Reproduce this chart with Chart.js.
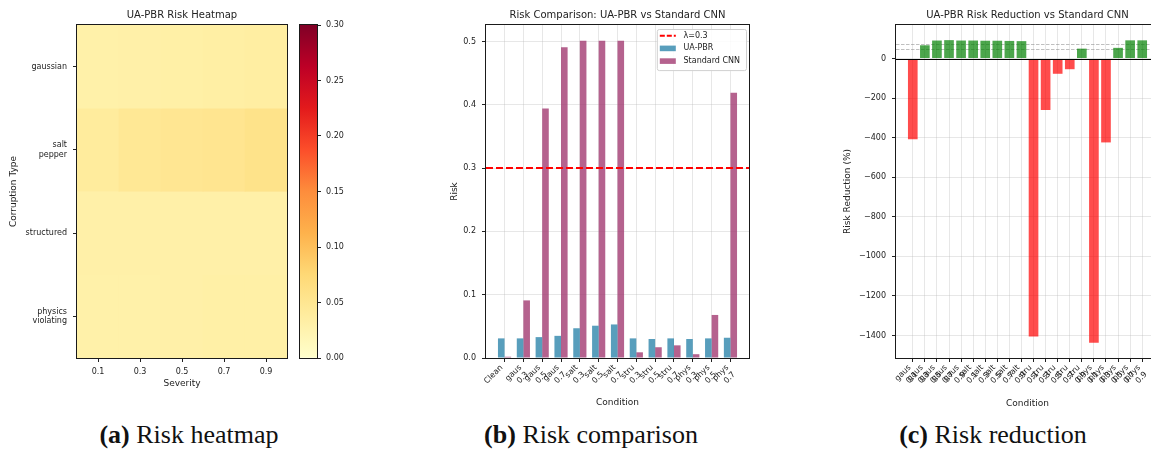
<!DOCTYPE html>
<html>
<head>
<meta charset="utf-8">
<script src="https://cdn.jsdelivr.net/npm/chart.js@4.4.1/dist/chart.umd.min.js"></script>
<style>
html,body{margin:0;padding:0;background:#fff;overflow:hidden;width:1151px;height:452px;}
canvas{position:absolute;}
.cap{position:absolute;top:420px;font-family:'Liberation Serif','Times New Roman',serif;font-size:26px;line-height:30px;color:#111;white-space:nowrap;transform:translateX(-50%);}
</style>
</head>
<body>
<canvas id="heat" width="292" height="400" style="left:0px;top:0px"></canvas>
<canvas id="cbar" width="70" height="400" style="left:292px;top:0px"></canvas>
<canvas id="cmp" width="336" height="420" style="left:420px;top:0px"></canvas>
<canvas id="red" width="346" height="420" style="left:820px;top:0px"></canvas>
<div class="cap" style="left:189px"><b>(a)</b> Risk heatmap</div>
<div class="cap" style="left:591px"><b>(b)</b> Risk comparison</div>
<div class="cap" style="left:993px"><b>(c)</b> Risk reduction</div>
<script>
// ---------------- DATA ----------------
const severities = ['0.1', '0.3', '0.5', '0.7', '0.9'];
const corruptionTypes = ['gaussian', 'salt pepper', 'structured', 'physics violating'];
const heatGaussian   = [0.030, 0.031, 0.032, 0.034, 0.036];
const heatSaltPepper = [0.040, 0.047, 0.050, 0.052, 0.057];
const heatStructured = [0.031, 0.031, 0.031, 0.031, 0.031];
const heatPhysics    = [0.030, 0.030, 0.031, 0.032, 0.032];
const colorbarRange = [0, 0.30];
const colorbarTicks = [0, 0.05, 0.10, 0.15, 0.20, 0.25, 0.30];

const conditions = ['Clean', 'gaus 0.3', 'gaus 0.5', 'gaus 0.7', 'salt 0.3', 'salt 0.5', 'salt 0.7',
                    'stru 0.3', 'stru 0.5', 'stru 0.7', 'phys 0.3', 'phys 0.5', 'phys 0.7'];
const uaPbrRisk       = [0.031, 0.031, 0.033, 0.035, 0.047, 0.051, 0.053, 0.031, 0.030, 0.031, 0.030, 0.031, 0.032];
const standardCnnRisk = [0.002, 0.091, 0.394, 0.491, 0.501, 0.501, 0.501, 0.009, 0.017, 0.020, 0.006, 0.068, 0.419];
const riskThreshold = 0.3;
const riskTicks = [0, 0.1, 0.2, 0.3, 0.4, 0.5];

const reductionConditions = ['gaus 0.1', 'gaus 0.3', 'gaus 0.5', 'gaus 0.7', 'gaus 0.9',
                             'salt 0.1', 'salt 0.3', 'salt 0.5', 'salt 0.7', 'salt 0.9',
                             'stru 0.1', 'stru 0.3', 'stru 0.5', 'stru 0.7', 'stru 0.9',
                             'phys 0.1', 'phys 0.3', 'phys 0.5', 'phys 0.7', 'phys 0.9'];
const riskReduction = [-408, 67, 91, 93, 91, 91, 90, 90, 89, 88,
                       -1405, -260, -77, -54, 50, -1437, -424, 54, 92, 92];
const reductionRefLines = [50, 75];
const reductionTicks = [-1400, -1200, -1000, -800, -600, -400, -200, 0];

// ---------------- STYLE ----------------
const FONT = "'DejaVu Sans', sans-serif";
const TXT = '#222222';
const GRID = 'rgba(176,176,176,0.3)';
const UA_COLOR = 'rgba(46,134,171,0.8)';
const CNN_COLOR = 'rgba(162,59,114,0.8)';
const POS_COLOR = 'rgba(0,128,0,0.7)';
const NEG_COLOR = 'rgba(255,0,0,0.7)';
const THRESH_COLOR = '#ff0000';
const YLORRD = ['#ffffcc','#ffeda0','#fed976','#feb24c','#fd8d3c','#fc4e2a','#e31a1c','#bd0026','#800026'];

Chart.defaults.font.family = FONT;
Chart.defaults.font.size = 8;
Chart.defaults.color = TXT;
Chart.defaults.animation = false;

function hexToRgb(h) { return [1,3,5].map(i => parseInt(h.substr(i,2),16)); }
function cmap(t) {
  t = Math.max(0, Math.min(1, t));
  const p = t * (YLORRD.length - 1);
  const i = Math.min(YLORRD.length - 2, Math.floor(p));
  const f = p - i;
  const a = hexToRgb(YLORRD[i]), b = hexToRgb(YLORRD[i+1]);
  const c = a.map((v,k) => Math.round(v + (b[k]-v)*f));
  return `rgb(${c[0]},${c[1]},${c[2]})`;
}
// matplotlib-like 5% margins around bar extents
function paddedRange(lo, hi) { const m = (hi - lo) * 0.05; return [lo - m, hi + m]; }

const spines = {
  id: 'spines',
  afterDraw(chart) {
    const {ctx, chartArea: a} = chart;
    ctx.save();
    ctx.strokeStyle = '#1a1a1a';
    ctx.lineWidth = 1;
    ctx.strokeRect(Math.round(a.left) - 0.5, Math.round(a.top) - 0.5,
                   Math.round(a.right) - Math.round(a.left) + 1, Math.round(a.bottom) - Math.round(a.top) + 1);
    ctx.restore();
  }
};

const titleFont = {family: FONT, size: 10, weight: 'normal'};
const axisTitleFont = {family: FONT, size: 9, weight: 'normal'};
const tickFont = {family: FONT, size: 8};

// ---------------- (a) HEATMAP ----------------
const heatRows = [heatGaussian, heatSaltPepper, heatStructured, heatPhysics];
new Chart(document.getElementById('heat'), {
  type: 'bar',
  data: {
    labels: severities,
    datasets: heatRows.map((row, r) => ({
      label: corruptionTypes[r],
      data: row.map(() => [r - 0.5, r + 0.5]),
      backgroundColor: row.map(v => cmap((v - colorbarRange[0]) / (colorbarRange[1] - colorbarRange[0]))),
      borderWidth: 0,
      barPercentage: 1,
      categoryPercentage: 1,
      grouped: false
    }))
  },
  options: {
    responsive: false, devicePixelRatio: 1,
    layout: {padding: {left: 0, right: 5, top: 0, bottom: 0}},
    plugins: {
      legend: {display: false}, tooltip: {enabled: false},
      title: {display: true, text: 'UA-PBR Risk Heatmap', fullSize: false, color: TXT, font: titleFont, padding: {top: 9, bottom: 4}}
    },
    scales: {
      x: {
        type: 'category', offset: true,
        grid: {display: true, drawOnChartArea: false, offset: false, tickLength: 4, tickColor: TXT},
        border: {display: false},
        ticks: {font: tickFont, color: TXT, padding: 5, maxRotation: 0, autoSkip: false},
        title: {display: true, text: 'Severity', font: axisTitleFont, color: TXT, padding: {top: 0, bottom: 10.6}},
        afterFit: s => { s.height = 42; }
      },
      y: {
        type: 'linear', reverse: true, min: -0.5, max: corruptionTypes.length - 0.5,
        afterBuildTicks: s => { s.ticks = corruptionTypes.map((_, i) => ({value: i})); },
        ticks: {font: tickFont, color: TXT, padding: 6, callback: v => corruptionTypes[v] ? corruptionTypes[v].split(' ') : ''},
        grid: {display: true, drawOnChartArea: false, tickLength: 4, tickColor: TXT},
        border: {display: false},
        title: {display: true, text: 'Corruption Type', font: axisTitleFont, color: TXT, padding: {top: 8.6, bottom: 0}},
        afterFit: s => { s.width = 77; }
      }
    }
  },
  plugins: [spines]
});

// ---------------- colorbar ----------------
new Chart(document.getElementById('cbar'), {
  type: 'bar',
  data: {
    labels: ['Risk'],
    datasets: [{
      data: [colorbarRange.slice()],
      backgroundColor: (c) => {
        const ch = c.chart;
        if (!ch.chartArea) return YLORRD[0];
        const y = ch.scales.y;
        const g = ch.ctx.createLinearGradient(0, y.getPixelForValue(colorbarRange[0]), 0, y.getPixelForValue(colorbarRange[1]));
        YLORRD.forEach((col, i) => g.addColorStop(i / (YLORRD.length - 1), col));
        return g;
      },
      borderWidth: 0, barPercentage: 1, categoryPercentage: 1
    }]
  },
  options: {
    responsive: false, devicePixelRatio: 1,
    layout: {padding: {left: 8, right: 0, top: 25, bottom: 42}},
    plugins: {legend: {display: false}, tooltip: {enabled: false}},
    scales: {
      x: {display: false, offset: true},
      y: {
        position: 'right', min: colorbarRange[0], max: colorbarRange[1],
        afterBuildTicks: s => { s.ticks = colorbarTicks.map(v => ({value: v})); },
        ticks: {font: tickFont, color: TXT, padding: 5, callback: v => Number(v).toFixed(2)},
        grid: {display: true, drawOnChartArea: false, tickLength: 4, tickColor: TXT},
        border: {display: false},
        afterFit: s => { s.width = 45; }
      }
    }
  },
  plugins: [spines]
});

// ---------------- (b) COMPARISON ----------------
const cmpBarHalf = 0.35;
const cmpX = paddedRange(-cmpBarHalf, conditions.length - 1 + cmpBarHalf);
const cmpY = [0, Math.max(...uaPbrRisk, ...standardCnnRisk) * 1.05];

const thresholdLine = {
  id: 'thresholdLine',
  afterDatasetsDraw(chart) {
    const {ctx, chartArea: a, scales: {y}} = chart;
    const py = y.getPixelForValue(riskThreshold);
    ctx.save();
    ctx.strokeStyle = THRESH_COLOR; ctx.lineWidth = 2; ctx.setLineDash([7, 3]);
    ctx.beginPath(); ctx.moveTo(a.left, py); ctx.lineTo(a.right, py); ctx.stroke();
    ctx.restore();
  }
};
const cmpLegend = {
  id: 'cmpLegend',
  afterDraw(chart) {
    const {ctx, chartArea: a} = chart;
    const items = [{type: 'line', color: THRESH_COLOR, text: '\u03bb=' + riskThreshold}]
      .concat(chart.data.datasets.map(d => ({type: 'patch', color: d.backgroundColor, text: d.label})));
    ctx.save();
    ctx.font = '8px ' + FONT;
    const tw = Math.max(...items.map(i => ctx.measureText(i.text).width));
    const rowH = 12.7, padL = 3, handle = 16, gap = 7.7, padR = 6;
    const w = padL + handle + gap + tw + padR, h = items.length * rowH + 3;
    const x0 = a.right - 3 - w, y0 = a.top + 4;
    ctx.fillStyle = 'rgba(255,255,255,0.85)';
    ctx.strokeStyle = '#d0d0d0'; ctx.lineWidth = 1;
    ctx.beginPath();
    if (ctx.roundRect) ctx.roundRect(x0 + 0.5, y0 + 0.5, w, h, 2); else ctx.rect(x0 + 0.5, y0 + 0.5, w, h);
    ctx.fill(); ctx.stroke();
    items.forEach((it, k) => {
      const cy = y0 + 6.7 + k * rowH;
      const hx = x0 + padL;
      if (it.type === 'line') {
        ctx.strokeStyle = it.color; ctx.lineWidth = 2; ctx.setLineDash([5, 2]);
        ctx.beginPath(); ctx.moveTo(hx, cy); ctx.lineTo(hx + handle, cy); ctx.stroke();
        ctx.setLineDash([]);
      } else {
        ctx.fillStyle = it.color;
        ctx.fillRect(hx, cy - 2.8, handle, 5.6);
      }
      ctx.fillStyle = TXT; ctx.textBaseline = 'middle'; ctx.textAlign = 'left';
      ctx.fillText(it.text, hx + handle + gap, cy);
    });
    ctx.restore();
  }
};

new Chart(document.getElementById('cmp'), {
  type: 'bar',
  data: {
    datasets: [
      {label: 'UA-PBR', data: uaPbrRisk.map((v, i) => ({x: i, y: v})), backgroundColor: UA_COLOR,
       borderWidth: 0, categoryPercentage: 2 * cmpBarHalf, barPercentage: 1},
      {label: 'Standard CNN', data: standardCnnRisk.map((v, i) => ({x: i, y: v})), backgroundColor: CNN_COLOR,
       borderWidth: 0, categoryPercentage: 2 * cmpBarHalf, barPercentage: 1}
    ]
  },
  options: {
    responsive: false, devicePixelRatio: 1,
    layout: {padding: {left: 0, right: 7, top: 0, bottom: 0}},
    plugins: {
      legend: {display: false}, tooltip: {enabled: false},
      title: {display: true, text: 'Risk Comparison: UA-PBR vs Standard CNN', fullSize: false, color: TXT, font: titleFont, padding: {top: 9, bottom: 4}}
    },
    scales: {
      x: {
        type: 'linear', offset: false, min: cmpX[0], max: cmpX[1],
        afterBuildTicks: s => { s.ticks = conditions.map((_, i) => ({value: i})); },
        ticks: {font: tickFont, color: TXT, padding: 1, labelOffset: -3, autoSkip: false, minRotation: 45, maxRotation: 45,
                callback: (v, i) => conditions[i] ? conditions[i].split(' ') : ''},
        grid: {display: true, offset: false, color: GRID, lineWidth: 1, tickLength: 4, tickColor: TXT},
        border: {display: false},
        title: {display: true, text: 'Condition', font: axisTitleFont, color: TXT, padding: {top: 0, bottom: 11.6}},
        afterFit: s => { s.height = 62; }
      },
      y: {
        type: 'linear', min: cmpY[0], max: cmpY[1],
        afterBuildTicks: s => { s.ticks = riskTicks.map(v => ({value: v})); },
        ticks: {font: tickFont, color: TXT, padding: 6, callback: v => Number(v).toFixed(1)},
        grid: {display: true, color: GRID, lineWidth: 1, tickLength: 4, tickColor: TXT},
        border: {display: false},
        title: {display: true, text: 'Risk', font: axisTitleFont, color: TXT, padding: {top: 29.6, bottom: 0}},
        afterFit: s => { s.width = 66; }
      }
    }
  },
  plugins: [thresholdLine, spines, cmpLegend]
});

// ---------------- (c) REDUCTION ----------------
const redBarHalf = 0.4;
const redX = paddedRange(-redBarHalf, reductionConditions.length - 1 + redBarHalf);
const redY = paddedRange(Math.min(0, ...riskReduction), Math.max(0, ...riskReduction));

const refLines = {
  id: 'refLines',
  beforeDatasetsDraw(chart) {
    const {ctx, chartArea: a, scales: {y}} = chart;
    ctx.save();
    ctx.strokeStyle = 'rgba(128,128,128,0.5)'; ctx.lineWidth = 1; ctx.setLineDash([3.5, 1.5]);
    reductionRefLines.forEach(v => {
      const py = Math.round(y.getPixelForValue(v)) + 0.5;
      ctx.beginPath(); ctx.moveTo(a.left, py); ctx.lineTo(a.right, py); ctx.stroke();
    });
    ctx.restore();
  },
  afterDatasetsDraw(chart) {
    const {ctx, chartArea: a, scales: {y}} = chart;
    const py = Math.round(y.getPixelForValue(0)) + 0.5;
    ctx.save();
    ctx.strokeStyle = '#000'; ctx.lineWidth = 1;
    ctx.beginPath(); ctx.moveTo(a.left, py); ctx.lineTo(a.right, py); ctx.stroke();
    ctx.restore();
  }
};

new Chart(document.getElementById('red'), {
  type: 'bar',
  data: {
    datasets: [{
      label: 'Risk Reduction (%)',
      data: riskReduction.map((v, i) => ({x: i, y: v})),
      backgroundColor: riskReduction.map(v => v >= 0 ? POS_COLOR : NEG_COLOR),
      borderWidth: 0, categoryPercentage: 1, barPercentage: 2 * redBarHalf
    }]
  },
  options: {
    responsive: false, devicePixelRatio: 1,
    layout: {padding: {left: 0, right: 7, top: 0, bottom: 0}},
    plugins: {
      legend: {display: false}, tooltip: {enabled: false},
      title: {display: true, text: 'UA-PBR Risk Reduction vs Standard CNN', fullSize: false, color: TXT, font: titleFont, padding: {top: 9, bottom: 4}}
    },
    scales: {
      x: {
        type: 'linear', offset: false, min: redX[0], max: redX[1],
        afterBuildTicks: s => { s.ticks = reductionConditions.map((_, i) => ({value: i})); },
        ticks: {font: tickFont, color: TXT, padding: 1, labelOffset: -3, autoSkip: false, minRotation: 45, maxRotation: 45,
                callback: (v, i) => reductionConditions[i] ? reductionConditions[i].split(' ') : ''},
        grid: {display: true, offset: false, color: GRID, lineWidth: 1, tickLength: 4, tickColor: TXT},
        border: {display: false},
        title: {display: true, text: 'Condition', font: axisTitleFont, color: TXT, padding: {top: 0, bottom: 11.3}},
        afterFit: s => { s.height = 62; }
      },
      y: {
        type: 'linear', min: redY[0], max: redY[1],
        afterBuildTicks: s => { s.ticks = reductionTicks.map(v => ({value: v})); },
        ticks: {font: tickFont, color: TXT, padding: 6, callback: v => String(v).replace('-', '\u2212')},
        grid: {display: true, color: GRID, lineWidth: 1, tickLength: 4, tickColor: TXT},
        border: {display: false},
        title: {display: true, text: 'Risk Reduction (%)', font: axisTitleFont, color: TXT, padding: {top: 22.1, bottom: 0}},
        afterFit: s => { s.width = 76; }
      }
    }
  },
  plugins: [refLines, spines]
});
</script>
</body>
</html>
